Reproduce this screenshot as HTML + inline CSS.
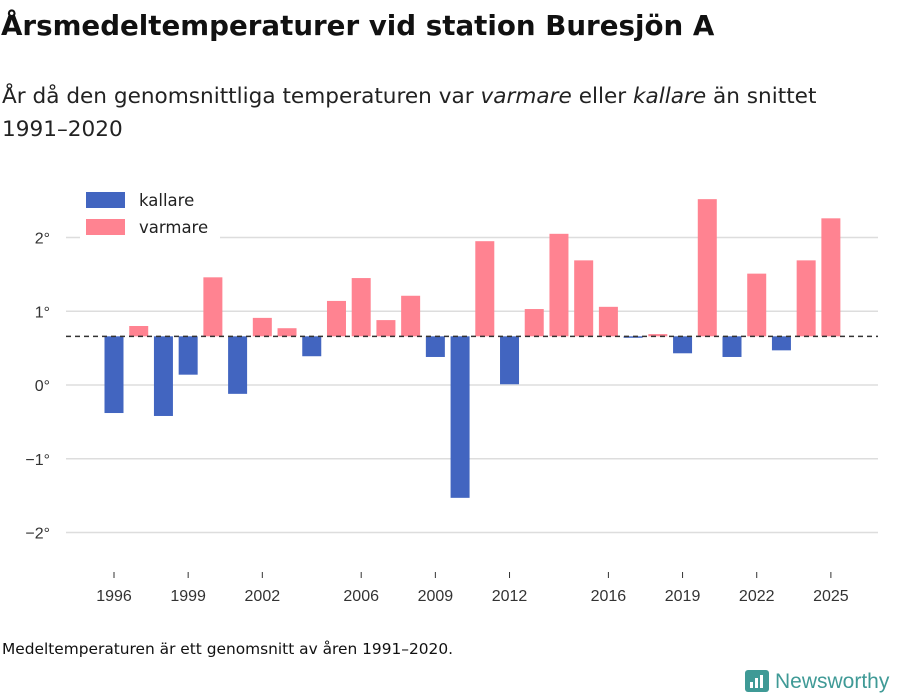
<!DOCTYPE html>
<html><head><meta charset="utf-8"><style>
body{margin:0;background:#fff;font-family:"DejaVu Sans","Liberation Sans",sans-serif;}
#wrap{position:relative;width:900px;height:700px;overflow:hidden}
</style></head><body>
<div id="wrap">
<div style="position:absolute;left:1px;top:9px;font-size:27.7px;font-weight:bold;color:#111;white-space:nowrap">Årsmedeltemperaturer vid station Buresjön A</div>
<div style="position:absolute;left:2px;top:80px;font-size:21.6px;line-height:33px;color:#222;white-space:nowrap">År då den genomsnittliga temperaturen var <i>varmare</i> eller <i>kallare</i> än snittet<br>1991–2020</div>
<svg id="chart" width="900" height="700" style="position:absolute;left:0;top:0"></svg>
<div style="position:absolute;left:2px;top:640px;font-size:15.4px;color:#111;white-space:nowrap">Medeltemperaturen är ett genomsnitt av åren 1991–2020.</div>
<div style="position:absolute;left:745px;top:670px;display:flex;align-items:center">
<svg width="24" height="24"><rect x="0" y="0" width="24" height="22" rx="3" fill="#3f9a96"/><rect x="5" y="12" width="3" height="6" fill="#fff"/><rect x="10" y="8" width="3" height="10" fill="#fff"/><rect x="15" y="5" width="3" height="13" fill="#fff"/></svg>
<span style="font-size:21px;color:#3f9a96;margin-left:6px;font-family:'Liberation Sans',sans-serif">Newsworthy</span></div>
</div>
<script>
const years=[1996,1997,1998,1999,2000,2001,2002,2003,2004,2005,2006,2007,2008,2009,2010,2011,2012,2013,2014,2015,2016,2017,2018,2019,2020,2021,2022,2023,2024,2025];
const temps=[-0.38,0.80,-0.42,0.14,1.46,-0.12,0.91,0.77,0.39,1.14,1.45,0.88,1.21,0.38,-1.53,1.95,0.01,1.03,2.05,1.69,1.06,0.64,0.69,0.43,2.52,0.38,1.51,0.47,1.69,2.26];
const meanTemp=0.66;
const yTicks=[2,1,0,-1,-2];
const yTickLabels=["2°","1°","0°","−1°","−2°"];
const xTicks=[1996,1999,2002,2006,2009,2012,2016,2019,2022,2025];
const svg=document.getElementById('chart');
const NS='http://www.w3.org/2000/svg';
const y=v=>385-v*73.75;
const x=yr=>114+(yr-1996)*24.72;
function mk(t,a){const e=document.createElementNS(NS,t);for(const k in a)e.setAttribute(k,a[k]);svg.appendChild(e);return e;}
yTicks.forEach((v,i)=>{
 const g=mk('line',{x1:66,x2:878,y1:y(v),y2:y(v),stroke:'#ddd','stroke-width':1.5});
 
 
 const t=mk('text',{x:50,y:y(v)+6,'text-anchor':'end','font-size':16,fill:'#333','font-family':'Liberation Sans, sans-serif'});
 t.textContent=yTickLabels[i];
 
 
});
years.forEach((yr,i)=>{
 const v=temps[i];const top=Math.min(y(v),y(meanTemp)),h=Math.abs(y(v)-y(meanTemp));
 const r=mk('rect',{x:x(yr)-9.5,y:top,width:19,height:Math.max(h,1),fill:v>=meanTemp?'#ff8391':'#4265c0'});
 
 
});
const d=mk('line',{x1:66,x2:878,y1:y(meanTemp),y2:y(meanTemp),stroke:'#333','stroke-width':1.5,'stroke-dasharray':'5,4'});


xTicks.forEach(yr=>{
 const l=mk('line',{x1:x(yr),x2:x(yr),y1:572,y2:578,stroke:'#333','stroke-width':1});
 
 
 const t=mk('text',{x:x(yr),y:601,'text-anchor':'middle','font-size':16,fill:'#333','font-family':'Liberation Sans, sans-serif'});
 t.textContent=yr;
 
 
});
[['kallare','#4265c0',200],['varmare','#ff8391',227]].forEach(([n,c,yy])=>{
 const bg=mk('rect',{x:80,y:yy-13,width:140,height:26,fill:'#fff'});
 
 
 const r=mk('rect',{x:86,y:yy-8,width:39,height:16,fill:c});
 
 
 const t=mk('text',{x:139,y:yy+6,'font-size':16.5,fill:'#222','font-family':'DejaVu Sans, sans-serif'});
 t.textContent=n;
 
 
});
</script>
</body></html>
